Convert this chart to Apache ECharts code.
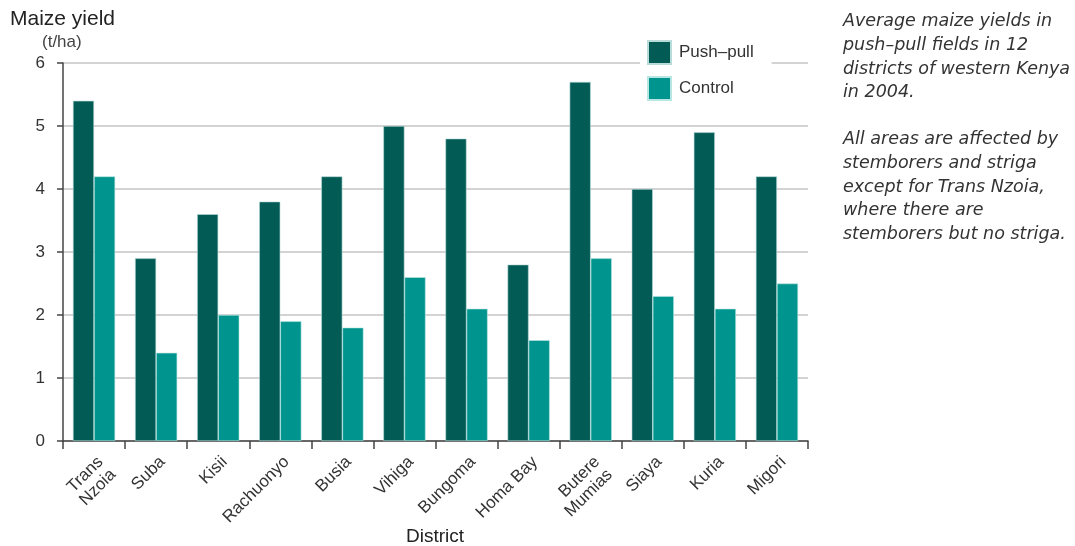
<!DOCTYPE html>
<html><head><meta charset="utf-8">
<script src="https://cdn.jsdelivr.net/npm/echarts@6/dist/echarts.min.js"></script>
<style>html,body{margin:0;padding:0;background:#fff}#c{width:1075px;height:546px}</style>
</head><body><div id="c"></div>
<script>
const categories = ['Trans\nNzoia','Suba','Kisii','Rachuonyo','Busia','Vihiga','Bungoma','Homa Bay','Butere\nMumias','Siaya','Kuria','Migori'];
const pushPull = [5.4, 2.9, 3.6, 3.8, 4.2, 5.0, 4.8, 2.8, 5.7, 4.0, 4.9, 4.2];
const control  = [4.2, 1.4, 2.0, 1.9, 1.8, 2.6, 2.1, 1.6, 2.9, 2.3, 2.1, 2.5];
const noteLines = ['Average maize yields in','push\u2013pull fields in 12','districts of western Kenya','in 2004.','','All areas are affected by','stemborers and striga','except for Trans Nzoia,','where there are','stemborers but no striga.'];
const xAxisTitle = 'District';

const FONT = 'Liberation Sans, Arial, sans-serif';
const chart = echarts.init(document.getElementById('c'));
chart.setOption({
  animation: false,
  textStyle: {fontFamily: FONT},
  grid: {left: 63, right: 267, top: 63, bottom: 105, containLabel: false, outerBoundsMode: 'none'},
  legend: {
    orient: 'vertical', left: 640, top: 36, itemWidth: 23, itemHeight: 23, itemGap: 11,
    icon: 'rect',
    backgroundColor: '#fff', padding: [4, 18, 4, 7],
    textStyle: {fontSize: 17, color: '#333', fontFamily: FONT, padding: [0, 0, 0, 3]},
    data: ['Push\u2013pull', 'Control']
  },
  xAxis: {
    type: 'category', data: categories,
    axisLine: {lineStyle: {color: '#444', width: 1.5}},
    axisTick: {show: true, length: 8, lineStyle: {color: '#444', width: 1.5}},
    axisLabel: {rotate: 45, fontSize: 17, color: '#333', margin: 12, lineHeight: 18, interval: 0, verticalAlign: 'top'}
  },
  yAxis: {
    type: 'value', min: 0, max: 6, interval: 1,
    axisLine: {show: true, lineStyle: {color: '#444', width: 1.5}},
    axisTick: {show: true, length: 6, lineStyle: {color: '#444', width: 1.5}},
    axisLabel: {fontSize: 17, color: '#333', margin: 18},
    splitLine: {lineStyle: {color: '#c4c4c4', width: 1.5}}
  },
  series: [
    {name: 'Push\u2013pull', type: 'bar', data: pushPull, barGap: '0%', barCategoryGap: '32%',
     itemStyle: {color: '#035b56', borderColor: '#b8dcda', borderWidth: 0.6}},
    {name: 'Control', type: 'bar', data: control,
     itemStyle: {color: '#00948e', borderColor: '#b8e6e3', borderWidth: 0.6}}
  ],
  graphic: [
    {type: 'text', left: 10, top: 9, style: {text: 'Maize yield', fontSize: 21, fill: '#222', fontFamily: FONT}},
    {type: 'text', left: 42, top: 34, style: {text: '(t/ha)', fontSize: 17, fill: '#444', fontFamily: FONT}},
    {type: 'text', x: 435, y: 537, style: {text: xAxisTitle, fontSize: 19, fill: '#222', fontFamily: FONT, textAlign: 'center', textVerticalAlign: 'middle'}},
    {type: 'text', left: 843, top: 10, style: {text: noteLines.join('\n'), fontSize: 17.5, lineHeight: 23.6, fontStyle: 'italic', fill: '#333', fontFamily: 'DejaVu Sans, sans-serif'}}
  ]
});
</script></body></html>
